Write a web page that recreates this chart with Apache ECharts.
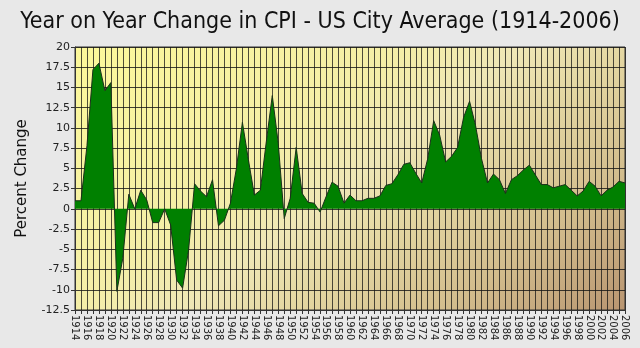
<!DOCTYPE html>
<html><head><meta charset="utf-8">
<script src="https://cdn.jsdelivr.net/npm/echarts@6/dist/echarts.min.js"></script>
<style>html,body{margin:0;padding:0;background:#e8e8e8}#c{width:640px;height:348px}</style>
</head><body><div id="c"></div>
<script>
const titleText = "Year on Year Change in CPI - US City Average (1914-2006)";
const yAxisName = "Percent Change";
const years = [];
for (let y = 1914; y <= 2006; y++) years.push(String(y));
const cpiChange = [
  1.0, 1.0, 7.8, 17.2, 18.0, 14.6, 15.6, -10.2, -6.1, 1.8,
  0.0, 2.3, 1.1, -1.7, -1.7, 0.0, -2.0, -8.8, -9.8, -5.1,
  3.1, 2.2, 1.5, 3.6, -2.1, -1.4, 0.7, 5.0, 10.7, 6.1,
  1.7, 2.3, 8.3, 14.0, 8.1, -1.2, 1.3, 7.6, 1.9, 0.8,
  0.7, -0.4, 1.5, 3.3, 2.8, 0.7, 1.7, 1.0, 1.0, 1.3,
  1.3, 1.6, 2.9, 3.1, 4.2, 5.5, 5.7, 4.4, 3.2, 6.2,
  10.9, 9.1, 5.8, 6.5, 7.6, 11.3, 13.3, 10.3, 6.2, 3.2,
  4.3, 3.6, 1.9, 3.6, 4.1, 4.8, 5.4, 4.2, 3.0, 3.0,
  2.6, 2.8, 3.0, 2.3, 1.6, 2.2, 3.4, 2.8, 1.6, 2.3,
  2.7, 3.4, 3.2
];
const yMin = -12.5, yMax = 20, yStep = 2.5;

const chart = echarts.init(document.getElementById('c'), null, {renderer: 'canvas'});
chart.setOption({
  backgroundColor: '#e8e8e8',
  animation: false,
  title: {
    text: titleText, left: 'center', top: 6,
    textStyle: {fontFamily: 'DejaVu Sans Condensed', fontSize: 23, fontWeight: 'normal', color: '#111'}
  },
  grid: {
    left: 75, right: 15, top: 47, bottom: 38, show: true,
    borderColor: '#333', borderWidth: 1,
    backgroundColor: new echarts.graphic.LinearGradient(0, 0, 0.61, 1.64, [
      {offset: 0, color: '#fcf89a'},
      {offset: 0.38, color: '#f4eea8'},
      {offset: 0.5, color: '#efe7b6'},
      {offset: 0.62, color: '#e4d7a2'},
      {offset: 0.8, color: '#d2bc8c'},
      {offset: 1, color: '#b89470'}
    ])
  },
  xAxis: {
    type: 'category', data: years, boundaryGap: false,
    axisLine: {show: true, onZero: false, lineStyle: {color: '#333'}},
    axisTick: {show: true, interval: 0, length: 4, lineStyle: {color: '#333'}},
    axisLabel: {interval: 1, rotate: -90, fontFamily: 'DejaVu Sans', fontSize: 10, color: '#222', margin: 5},
    splitLine: {show: true, interval: 0, lineStyle: {color: 'rgba(20,20,20,0.75)', width: 1}}
  },
  yAxis: {
    type: 'value', min: yMin, max: yMax, interval: yStep,
    name: yAxisName, nameLocation: 'middle', nameGap: 45,
    nameTextStyle: {fontFamily: 'DejaVu Sans', fontSize: 15, color: '#111'},
    axisLine: {show: true, lineStyle: {color: '#333'}},
    axisTick: {show: true, length: 4, lineStyle: {color: '#333'}},
    axisLabel: {fontFamily: 'DejaVu Sans', fontSize: 11, color: '#222', margin: 5},
    splitLine: {show: true, lineStyle: {color: 'rgba(20,20,20,0.8)', width: 1}}
  },
  series: [{
    type: 'line', data: cpiChange, symbol: 'none',
    lineStyle: {color: '#1a301a', width: 1},
    areaStyle: {color: '#008000', opacity: 1, origin: 0}
  }]
});
</script></body></html>
